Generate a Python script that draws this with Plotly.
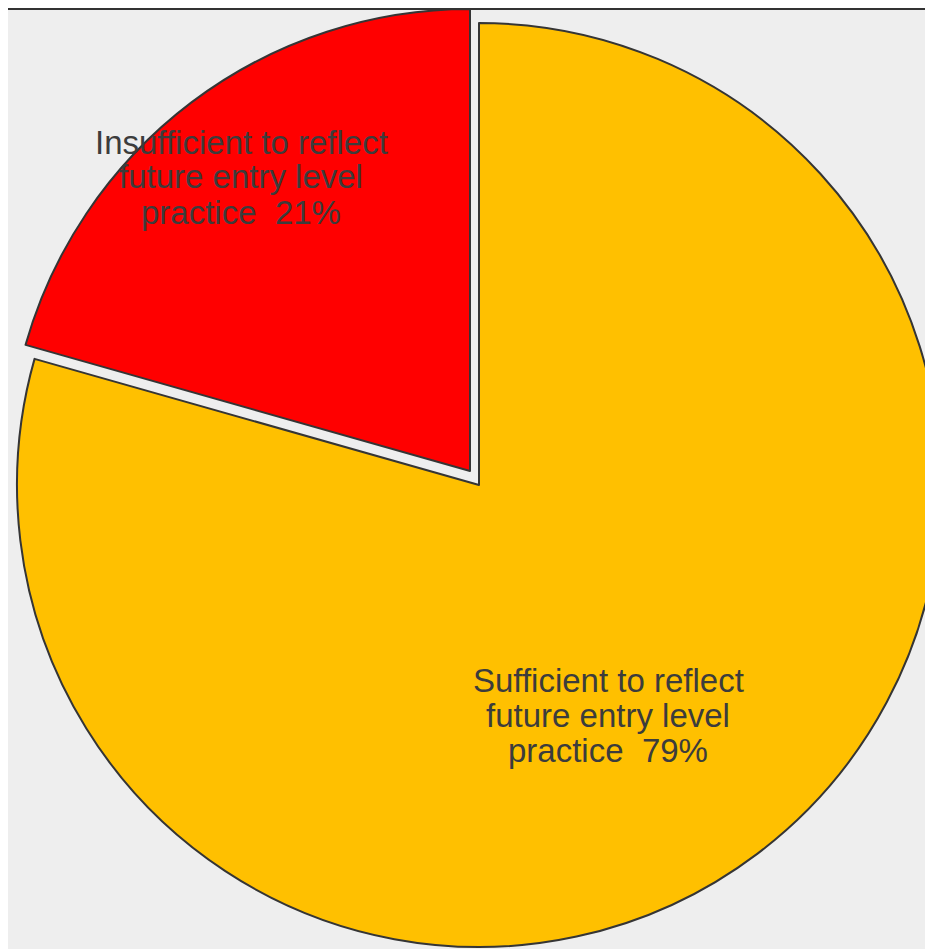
import plotly.graph_objects as go

# ---- data ----
labels = ["Sufficient to reflect<br>future entry level<br>practice",
          "Insufficient to reflect<br>future entry level<br>practice"]
values = [79.4, 20.6]
colors = ["#FFC000", "#FF0000"]

# ---- layout constants (pixels inside the figure) ----
W, H = 945, 941
R = 462
edge = "#353535"
txt_color = "#3c3c3c"
font_family = "Liberation Sans, Arial, sans-serif"

yellow_c = (471, 477)     # centre of the main pie
red_c = (462, 463)        # centre of the exploded slice
text_pos = [(600, 707), (233, 169)]   # centre of each label block
line_gap = 35


def pie_domain(c, r):
    cx, cy = c
    return dict(x=[max(0, (cx - r) / W), min(1, (cx + r) / W)],
                y=[max(0, 1 - (cy + r) / H), min(1, 1 - (cy - r) / H)])


fig = go.Figure()
# main (yellow) slice
fig.add_trace(go.Pie(
    labels=labels, values=values, sort=False, direction="clockwise", rotation=0,
    marker=dict(colors=[colors[0], "rgba(0,0,0,0)"], line=dict(color=edge, width=[2, 0])),
    textinfo="none", domain=pie_domain(yellow_c, R),
    showlegend=False, hoverinfo="skip",
))
# exploded (red) slice
fig.add_trace(go.Pie(
    labels=labels, values=values, sort=False, direction="clockwise", rotation=0,
    marker=dict(colors=["rgba(0,0,0,0)", colors[1]], line=dict(color=edge, width=[0, 2])),
    textinfo="none", domain=pie_domain(red_c, R),
    showlegend=False, hoverinfo="skip",
))

total = sum(values)
annotations = []
for lab, val, (tx, ty) in zip(labels, values, text_pos):
    lines = lab.split("<br>")
    lines[-1] = f"{lines[-1]}  {round(val / total * 100)}%"
    n = len(lines)
    for i, ln in enumerate(lines):
        y_px = ty + (i - (n - 1) / 2) * line_gap
        annotations.append(dict(
            text=ln, x=tx / W, y=1 - y_px / H, xref="paper", yref="paper",
            xanchor="center", yanchor="middle", showarrow=False,
            font=dict(family=font_family, size=33, color=txt_color),
        ))

fig.update_layout(
    width=W, height=H,
    margin=dict(l=0, r=0, t=0, b=0),
    paper_bgcolor="#EEEEEE",
    showlegend=False,
    annotations=annotations,
    shapes=[
        dict(type="line", xref="paper", yref="paper", x0=0, x1=1,
             ysizemode="pixel", yanchor=1, y0=-1, y1=-1,
             line=dict(color="#333333", width=2), layer="above"),
    ],
)

fig.write_html("out.html")
